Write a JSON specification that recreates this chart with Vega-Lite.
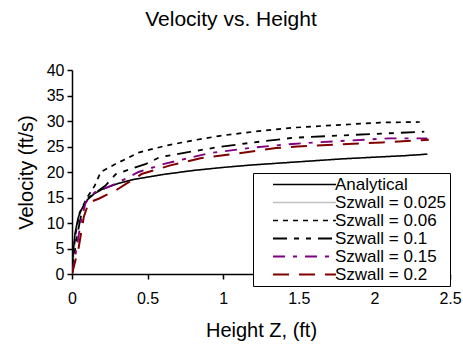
{
  "$schema": "https://vega.github.io/schema/vega-lite/v6.json",
  "autosize": "none",
  "width": 378,
  "height": 204,
  "padding": {"left": 72, "top": 70, "right": 13, "bottom": 74},
  "background": "white",
  "title": {"text": "Velocity vs. Height", "font": "Liberation Sans", "fontSize": 21, "fontWeight": "normal", "color": "black", "offset": 32, "dx": -30},
  "config": {
    "view": {"stroke": null},
    "axis": {"grid": false, "domainColor": "black", "domainWidth": 1.5, "tickColor": "black", "tickWidth": 1.5, "tickSize": 5, "labelColor": "black", "labelFont": "Liberation Sans", "labelFontSize": 16, "titleFont": "Liberation Sans", "titleFontSize": 20, "titleFontWeight": "normal", "titleColor": "black"},
    "legend": {"labelFont": "Liberation Sans", "labelFontSize": 17, "labelColor": "black"}
  },
  "data": {"values": [
    {"s": "Analytical", "z": 0, "v": 0}, {"s": "Analytical", "z": 0.01, "v": 5}, {"s": "Analytical", "z": 0.02, "v": 8}, {"s": "Analytical", "z": 0.04, "v": 11}, {"s": "Analytical", "z": 0.06, "v": 12.5}, {"s": "Analytical", "z": 0.1, "v": 14.5}, {"s": "Analytical", "z": 0.15, "v": 15.8}, {"s": "Analytical", "z": 0.2, "v": 16.6}, {"s": "Analytical", "z": 0.3, "v": 17.7}, {"s": "Analytical", "z": 0.4, "v": 18.5}, {"s": "Analytical", "z": 0.5, "v": 19.0}, {"s": "Analytical", "z": 0.6, "v": 19.5}, {"s": "Analytical", "z": 0.8, "v": 20.3}, {"s": "Analytical", "z": 1.0, "v": 20.9}, {"s": "Analytical", "z": 1.2, "v": 21.4}, {"s": "Analytical", "z": 1.4, "v": 21.8}, {"s": "Analytical", "z": 1.6, "v": 22.2}, {"s": "Analytical", "z": 1.8, "v": 22.6}, {"s": "Analytical", "z": 2.0, "v": 22.9}, {"s": "Analytical", "z": 2.2, "v": 23.2}, {"s": "Analytical", "z": 2.35, "v": 23.5},
    {"s": "Szwall = 0.025", "z": 0, "v": 0}, {"s": "Szwall = 0.025", "z": 0.02, "v": 6.5}, {"s": "Szwall = 0.025", "z": 0.04, "v": 10.5}, {"s": "Szwall = 0.025", "z": 0.06, "v": 12.5}, {"s": "Szwall = 0.025", "z": 0.1, "v": 14.5}, {"s": "Szwall = 0.025", "z": 0.15, "v": 15.8}, {"s": "Szwall = 0.025", "z": 0.2, "v": 16.6}, {"s": "Szwall = 0.025", "z": 0.3, "v": 17.7}, {"s": "Szwall = 0.025", "z": 0.4, "v": 18.5}, {"s": "Szwall = 0.025", "z": 0.5, "v": 19.0}, {"s": "Szwall = 0.025", "z": 0.6, "v": 19.5}, {"s": "Szwall = 0.025", "z": 0.8, "v": 20.3}, {"s": "Szwall = 0.025", "z": 1.0, "v": 20.9}, {"s": "Szwall = 0.025", "z": 1.2, "v": 21.4}, {"s": "Szwall = 0.025", "z": 1.4, "v": 21.8}, {"s": "Szwall = 0.025", "z": 1.6, "v": 22.2}, {"s": "Szwall = 0.025", "z": 1.8, "v": 22.6}, {"s": "Szwall = 0.025", "z": 2.0, "v": 22.9}, {"s": "Szwall = 0.025", "z": 2.2, "v": 23.2}, {"s": "Szwall = 0.025", "z": 2.35, "v": 23.5},
    {"s": "Szwall = 0.06", "z": 0, "v": 0}, {"s": "Szwall = 0.06", "z": 0.02, "v": 7.3}, {"s": "Szwall = 0.06", "z": 0.05, "v": 12}, {"s": "Szwall = 0.06", "z": 0.1, "v": 15}, {"s": "Szwall = 0.06", "z": 0.15, "v": 17.3}, {"s": "Szwall = 0.06", "z": 0.19, "v": 20}, {"s": "Szwall = 0.06", "z": 0.29, "v": 21.6}, {"s": "Szwall = 0.06", "z": 0.44, "v": 23.8}, {"s": "Szwall = 0.06", "z": 0.61, "v": 25.1}, {"s": "Szwall = 0.06", "z": 0.8, "v": 26.2}, {"s": "Szwall = 0.06", "z": 0.98, "v": 27.1}, {"s": "Szwall = 0.06", "z": 1.2, "v": 27.9}, {"s": "Szwall = 0.06", "z": 1.47, "v": 28.7}, {"s": "Szwall = 0.06", "z": 1.75, "v": 29.2}, {"s": "Szwall = 0.06", "z": 2.04, "v": 29.7}, {"s": "Szwall = 0.06", "z": 2.3, "v": 29.8},
    {"s": "Szwall = 0.1", "z": 0, "v": 0}, {"s": "Szwall = 0.1", "z": 0.03, "v": 7}, {"s": "Szwall = 0.1", "z": 0.045, "v": 9.2}, {"s": "Szwall = 0.1", "z": 0.07, "v": 13}, {"s": "Szwall = 0.1", "z": 0.11, "v": 15}, {"s": "Szwall = 0.1", "z": 0.22, "v": 17.3}, {"s": "Szwall = 0.1", "z": 0.29, "v": 19.6}, {"s": "Szwall = 0.1", "z": 0.49, "v": 21.6}, {"s": "Szwall = 0.1", "z": 0.58, "v": 22.9}, {"s": "Szwall = 0.1", "z": 0.75, "v": 23.8}, {"s": "Szwall = 0.1", "z": 0.95, "v": 24.8}, {"s": "Szwall = 0.1", "z": 1.2, "v": 25.8}, {"s": "Szwall = 0.1", "z": 1.46, "v": 26.7}, {"s": "Szwall = 0.1", "z": 1.8, "v": 27.2}, {"s": "Szwall = 0.1", "z": 2.1, "v": 27.6}, {"s": "Szwall = 0.1", "z": 2.33, "v": 27.9},
    {"s": "Szwall = 0.15", "z": 0, "v": 0}, {"s": "Szwall = 0.15", "z": 0.03, "v": 5}, {"s": "Szwall = 0.15", "z": 0.06, "v": 10.5}, {"s": "Szwall = 0.15", "z": 0.09, "v": 14}, {"s": "Szwall = 0.15", "z": 0.15, "v": 16}, {"s": "Szwall = 0.15", "z": 0.29, "v": 17.7}, {"s": "Szwall = 0.15", "z": 0.44, "v": 20}, {"s": "Szwall = 0.15", "z": 0.61, "v": 21.6}, {"s": "Szwall = 0.15", "z": 0.91, "v": 23.7}, {"s": "Szwall = 0.15", "z": 1.2, "v": 24.8}, {"s": "Szwall = 0.15", "z": 1.46, "v": 25.5}, {"s": "Szwall = 0.15", "z": 1.61, "v": 25.8}, {"s": "Szwall = 0.15", "z": 1.85, "v": 26.2}, {"s": "Szwall = 0.15", "z": 2.1, "v": 26.6}, {"s": "Szwall = 0.15", "z": 2.35, "v": 26.6},
    {"s": "Szwall = 0.2", "z": 0, "v": 0}, {"s": "Szwall = 0.2", "z": 0.045, "v": 5.3}, {"s": "Szwall = 0.2", "z": 0.078, "v": 11.2}, {"s": "Szwall = 0.2", "z": 0.11, "v": 14}, {"s": "Szwall = 0.2", "z": 0.18, "v": 14.8}, {"s": "Szwall = 0.2", "z": 0.29, "v": 16.4}, {"s": "Szwall = 0.2", "z": 0.46, "v": 19.6}, {"s": "Szwall = 0.2", "z": 0.65, "v": 21.3}, {"s": "Szwall = 0.2", "z": 0.85, "v": 22.7}, {"s": "Szwall = 0.2", "z": 1.06, "v": 23.5}, {"s": "Szwall = 0.2", "z": 1.35, "v": 24.7}, {"s": "Szwall = 0.2", "z": 1.49, "v": 25.0}, {"s": "Szwall = 0.2", "z": 1.75, "v": 25.4}, {"s": "Szwall = 0.2", "z": 2.05, "v": 25.8}, {"s": "Szwall = 0.2", "z": 2.36, "v": 26.3}
  ]},
  "encoding": {
    "x": {"field": "z", "type": "quantitative", "title": "Height Z, (ft)", "scale": {"domain": [0, 2.5], "nice": false}, "axis": {"values": [0, 0.5, 1, 1.5, 2, 2.5], "format": "~g", "labelPadding": 11, "titlePadding": 14, "labelFlush": false}},
    "y": {"field": "v", "type": "quantitative", "title": "Velocity (ft/s)", "scale": {"domain": [0, 40], "nice": false}, "axis": {"values": [0, 5, 10, 15, 20, 25, 30, 35, 40], "labelPadding": 3, "titlePadding": 10, "labelFlush": false}},
    "color": {"field": "s", "type": "nominal", "title": null, "scale": {"domain": ["Analytical", "Szwall = 0.025", "Szwall = 0.06", "Szwall = 0.1", "Szwall = 0.15", "Szwall = 0.2"], "range": ["#000000", "#c0c0c0", "#000000", "#000000", "#800080", "#800000"]},
      "legend": {"orient": "none", "legendX": 181, "legendY": 103, "strokeColor": "black", "fillColor": "white", "padding": 3, "symbolType": "M-6.3,0H6.3", "symbolSize": 100, "symbolOffset": 40, "rowPadding": 0, "labelOffset": 22, "zindex": 1}},
    "strokeDash": {"field": "s", "type": "nominal", "title": null, "scale": {"domain": ["Analytical", "Szwall = 0.025", "Szwall = 0.06", "Szwall = 0.1", "Szwall = 0.15", "Szwall = 0.2"], "range": [[1, 0], [1, 0], [5, 5], [14, 7, 5, 7, 5, 7], [12, 8, 4, 8], [16, 10]]}},
    "strokeWidth": {"field": "s", "type": "nominal", "title": null, "scale": {"domain": ["Analytical", "Szwall = 0.025", "Szwall = 0.06", "Szwall = 0.1", "Szwall = 0.15", "Szwall = 0.2"], "range": [1.5, 2, 2.5, 2.5, 2.5, 2.5]}}
  },
  "layer": [
    {"transform": [{"filter": "datum.s == 'Szwall = 0.025'"}], "mark": {"type": "line", "clip": true}},
    {"transform": [{"filter": "datum.s != 'Szwall = 0.025'"}], "mark": {"type": "line", "clip": true}}
  ]
}
